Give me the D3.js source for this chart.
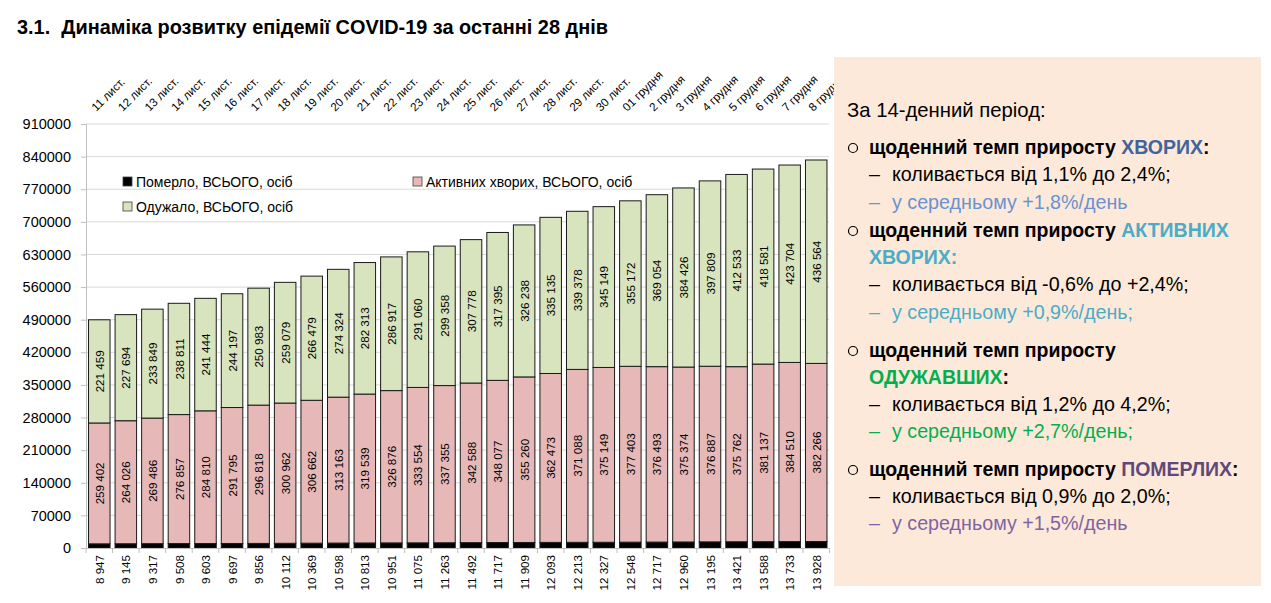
<!DOCTYPE html>
<html><head><meta charset="utf-8">
<script src="https://cdn.jsdelivr.net/npm/d3@7"></script>
<style>body{margin:0;background:#fff}svg{display:block}text{font-family:"Liberation Sans",Arial,sans-serif}</style>
</head><body><svg id="c" width="1271" height="603"></svg>
<script>
const dates = ["11 лист.","12 лист.","13 лист.","14 лист.","15 лист.","16 лист.","17 лист.","18 лист.","19 лист.","20 лист.","21 лист.","22 лист.","23 лист.","24 лист.","25 лист.","26 лист.","27 лист.","28 лист.","29 лист.","30 лист.","01 грудня","2 грудня","3 грудня","4 грудня","5 грудня","6 грудня","7 грудня","8 грудня"];
const died = [8947,9145,9317,9508,9603,9697,9856,10112,10369,10598,10813,10951,11075,11263,11492,11717,11909,12093,12213,12327,12548,12717,12960,13195,13421,13588,13733,13928];
const active = [259402,264026,269486,276857,284810,291795,296818,300962,306662,313163,319539,326876,333554,337355,342588,348077,355260,362473,371088,375149,377403,376493,375374,376887,375762,381137,384510,382266];
const recovered = [221459,227694,233849,238811,241444,244197,250983,259079,266479,274324,282313,286917,291060,299358,307778,317395,326238,335135,339378,345149,355172,369054,384426,397809,412533,418581,423704,436564];
const yTicks = [0,70000,140000,210000,280000,350000,420000,490000,560000,630000,700000,770000,840000,910000];
const seriesKeys = ["died","active","recovered"];
const seriesNames = ["Померло, ВСЬОГО, осіб","Активних хворих, ВСЬОГО, осіб","Одужало, ВСЬОГО, осіб"];
const seriesColors = ["#000000","#e6b9b8","#d7e4bd"];
const titleText = "3.1.  Динаміка розвитку епідемії COVID-19 за останні 28 днів";
const panelHeader = "За 14-денний період:";
const panelBlocks = [
  {head:[["щоденний темп приросту ","#000"],["ХВОРИХ","#3f659d"],[":","#000"]], range:"коливається від 1,1% до 2,4%;", mean:"у середньому +1,8%/день", meanColor:"#6a92cf"},
  {head:[["щоденний темп приросту ","#000"],["АКТИВНИХ","#4bacc6"]], head2:[["ХВОРИХ:","#4bacc6"]], range:"коливається від -0,6% до +2,4%;", mean:"у середньому +0,9%/день;", meanColor:"#4bacc6"},
  {head:[["щоденний темп приросту","#000"]], head2:[["ОДУЖАВШИХ","#00b050"],[":","#000"]], range:"коливається від 1,2% до 4,2%;", mean:"у середньому +2,7%/день;", meanColor:"#00b050"},
  {head:[["щоденний темп приросту ","#000"],["ПОМЕРЛИХ","#60497a"],[":","#000"]], range:"коливається від 0,9% до 2,0%;", mean:"у середньому +1,5%/день", meanColor:"#8064a2"}
];

const loc = d3.formatLocale({decimal:",", thousands:" ", grouping:[3], currency:["",""]});
const fmt = loc.format(",d");

const svg = d3.select("#c");
svg.append("rect").attr("width",1271).attr("height",603).attr("fill","#fff");

const x = d3.scaleBand().domain(dates).range([86, 829.5]).paddingInner(0.19).paddingOuter(0.095);
const y = d3.scaleLinear().domain([0, 910000]).range([548, 124]);

// title
svg.append("text").attr("x",17).attr("y",34).attr("font-size",19.9).attr("font-weight","bold")
  .attr("fill","#000").style("white-space","pre").attr("xml:space","preserve").text(titleText);

// gridlines
svg.append("g").selectAll("line").data(yTicks.slice(1)).join("line")
  .attr("x1",86).attr("x2",829).attr("y1",d=>y(d)).attr("y2",d=>y(d))
  .attr("stroke","#d9d9d9").attr("stroke-width",1);

// y axis
const ya = svg.append("g").attr("transform","translate(86,0)")
  .call(d3.axisLeft(y).tickValues(yTicks).tickSize(5).tickPadding(10).tickFormat(d3.format("d")));
ya.select(".domain").attr("stroke","#bfbfbf");
ya.selectAll(".tick line").attr("stroke","#bfbfbf");
ya.selectAll(".tick text").attr("font-size",14.5).attr("fill","#000").attr("font-family","Liberation Sans, Arial, sans-serif");

// stacked bars
const rows = dates.map((d,i)=>({date:d, died:died[i], active:active[i], recovered:recovered[i]}));
const stack = d3.stack().keys(seriesKeys)(rows);
const gb = svg.append("g");
stack.forEach((s,si)=>{
  gb.append("g").selectAll("rect").data(s).join("rect")
    .attr("x",d=>x(d.data.date)).attr("width",x.bandwidth())
    .attr("y",d=>y(d[1])).attr("height",d=>y(d[0])-y(d[1]))
    .attr("fill",seriesColors[si]).attr("stroke","#1a1a1a").attr("stroke-width",1);
});

// x axis baseline and ticks
const step = x.step();
const bounds = dates.map(d=>x(d) - (step - x.bandwidth())/2);
bounds.push(x(dates[dates.length-1]) + x.bandwidth() + (step - x.bandwidth())/2);
svg.append("line").attr("x1",86).attr("x2",829.5).attr("y1",548.5).attr("y2",548.5).attr("stroke","#bfbfbf");
svg.append("g").selectAll("line").data(bounds).join("line")
  .attr("x1",d=>d).attr("x2",d=>d).attr("y1",548).attr("y2",553).attr("stroke","#bfbfbf");

// value labels
[1,2].forEach(si=>{
  svg.append("g").selectAll("text").data(stack[si]).join("text")
    .attr("transform",d=>`translate(${x(d.data.date)+x.bandwidth()/2+0.5},${(y(d[0])+y(d[1]))/2}) rotate(-90)`)
    .attr("text-anchor","middle").attr("dy","0.35em").attr("font-size",11.6).attr("fill","#000")
    .text(d=>fmt(d[1]-d[0]));
});

// bottom labels (died)
svg.append("g").selectAll("text").data(rows).join("text")
  .attr("transform",d=>`translate(${x(d.date)+x.bandwidth()/2+0.5},555) rotate(-90)`)
  .attr("text-anchor","end").attr("dy","0.35em").attr("font-size",11.6).attr("fill","#000")
  .text(d=>fmt(d.died));

// top date labels
svg.append("g").selectAll("text").data(dates).join("text")
  .attr("transform",d=>`translate(${x(d)+x.bandwidth()/2-3},112) rotate(-45)`)
  .attr("text-anchor","start").attr("font-size",11.6).attr("fill","#000")
  .text(d=>d);

// legend
const legendPos = [[123,177],[413,177],[123,202]];
seriesNames.forEach((n,i)=>{
  const g = svg.append("g");
  g.append("rect").attr("x",legendPos[i][0]).attr("y",legendPos[i][1]).attr("width",9).attr("height",9)
    .attr("fill",seriesColors[i]).attr("stroke","#404040").attr("stroke-width",0.8);
  g.append("text").attr("x",legendPos[i][0]+13).attr("y",legendPos[i][1]+9.5).attr("font-size",14).attr("fill","#000").text(n);
});

// right panel
svg.append("rect").attr("x",834).attr("y",57).attr("width",427).attr("height",529).attr("fill","#fde9d9");
const pfs = 19.7, bfs = 19.5;
svg.append("text").attr("x",847).attr("y",117).attr("font-size",20.3).attr("fill","#000").text(panelHeader);
const baseY = [[154,181,209],[237,264,291,319],[357,384,411,438],[476,503,530]];
panelBlocks.forEach((b,bi)=>{
  const ys = baseY[bi];
  let k = 0;
  svg.append("circle").attr("cx",853).attr("cy",ys[0]-6).attr("r",4.5).attr("fill","none").attr("stroke","#000").attr("stroke-width",1.2);
  const t1 = svg.append("text").attr("x",869).attr("y",ys[k++]).attr("font-size",bfs).attr("font-weight","bold");
  b.head.forEach(p=>t1.append("tspan").attr("fill",p[1]).text(p[0]));
  if (b.head2) {
    const t2 = svg.append("text").attr("x",869).attr("y",ys[k++]).attr("font-size",bfs).attr("font-weight","bold");
    b.head2.forEach(p=>t2.append("tspan").attr("fill",p[1]).text(p[0]));
  }
  svg.append("text").attr("x",869).attr("y",ys[k]).attr("font-size",pfs).attr("fill","#000").text("–");
  svg.append("text").attr("x",892).attr("y",ys[k++]).attr("font-size",pfs).attr("fill","#000").text(b.range);
  svg.append("text").attr("x",869).attr("y",ys[k]).attr("font-size",pfs).attr("fill",b.meanColor).text("–");
  svg.append("text").attr("x",892).attr("y",ys[k++]).attr("font-size",pfs).attr("fill",b.meanColor).text(b.mean);
});
</script></body></html>
